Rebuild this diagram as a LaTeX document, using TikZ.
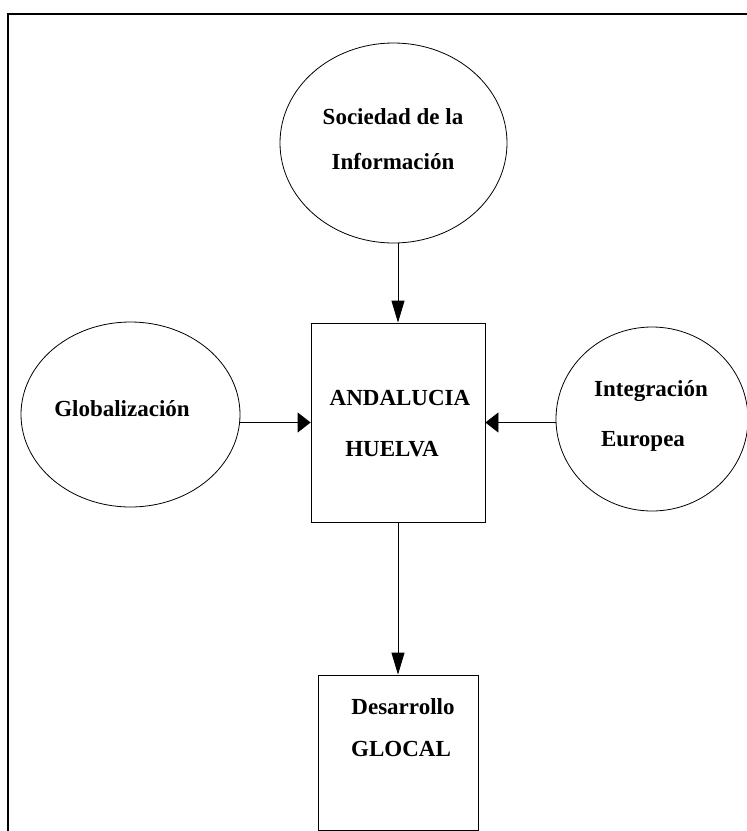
\documentclass[tikz,border=0pt]{standalone}
\usepackage{fontspec}
\setmainfont{Liberation Serif}
\usetikzlibrary{shapes.geometric,arrows.meta}
\tikzset{basic/.style={draw,line width=0.8pt,inner sep=0pt}}
\tikzset{factor/.style={basic,ellipse}}
\tikzset{region/.style={basic,rectangle}}
\tikzset{words/.style={anchor=base,font=\bfseries\fontsize{23}{28}\selectfont}}
\tikzset{vflow/.style={line width=0.8pt,-{Triangle[length=22pt,width=13pt]}}}
\tikzset{hflow/.style={line width=0.8pt,-{Triangle[length=13pt,width=20pt]}}}

\begin{document}
\begin{tikzpicture}[x=1pt,y=-1pt]
        \useasboundingbox (0,0) rectangle (747,831);
        \clip (0,0) rectangle (747,831);
        \draw[line width=2.3pt] (8,900) -- (8,14) -- (800,14);
        % Shapes
        \node[factor,minimum width=227,minimum height=200] (soc) at (393.5,143) {};
        \node[factor,minimum width=219,minimum height=185] (glob) at (130.5,414.5) {};
        \node[factor,minimum width=192,minimum height=184] (integ) at (652,419) {};
        \node[region,minimum width=174,minimum height=199] (anda) at (398,422.5) {};
        \node[region,minimum width=160,minimum height=155] (desa) at (398,752.5) {};
        % Flows
        \draw[vflow] (soc.south -| anda.north) -- (anda.north);
        \draw[hflow] (glob.east |- anda.west) -- (anda.west);
        \draw[hflow] (integ.west |- anda.east) -- (anda.east);
        \draw[vflow] (anda.south) -- (desa.north);
        % Labels
        \foreach \t/\x/\y [count=\i] in {Sociedad de la/393/124,Información/393/169,
            Globalización/122/416,Integración/651/396,Europea/643/446,
            ANDALUCIA/400/405,HUELVA/392/456,Desarrollo/403/714,GLOCAL/401/756}{%
              \node[words] (t\i) at (\x,\y) {\t};
            }
    \end{tikzpicture}
\end{document}
